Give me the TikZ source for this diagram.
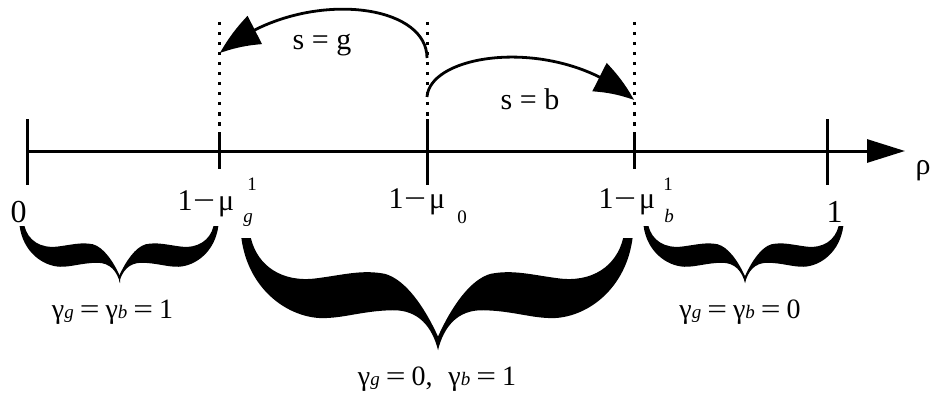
\documentclass[tikz,border=0pt]{standalone}
\usepackage{graphicx}
\usepackage{fontspec}
\setmainfont{Liberation Serif}
\usetikzlibrary{arrows.meta,bending}
\newcommand{\fsz}[1]{\fontsize{#1}{#1}\selectfont}
\newcommand{\weq}{\kern6pt\scalebox{1.25}[1]{=}\kern6pt}
\newcommand{\wmin}{\scalebox{1.3}[1]{−}}
\tikzset{
  axisline/.style={line width=3pt},
  tickline/.style={line width=3pt},
  dotline/.style={line width=3pt, dash pattern=on 3.5pt off 6.5pt},
  curvarrow/.style={line width=2.8pt, -{Triangle[length=42pt,width=31pt,bend]}},
  lbl/.style={inner sep=0pt, font=\fsz{30}},
  glbl/.style={inner sep=0pt, font=\fsz{28}},
  slbl/.style={inner sep=0pt, font=\fsz{30}},
  scr/.style={inner sep=0pt, font=\fsz{19}},
  halfbrace/.pic={
    \fill (0.015,0) .. controls (0.05,0.25) and (0.18,0.40) .. (0.36,0.36)
      .. controls (0.5,0.33) and (0.6,0.28) .. (0.72,0.32)
      .. controls (0.83,0.37) and (0.93,0.62) .. (1,0.88)
      -- (1,1)
      .. controls (0.97,0.80) and (0.9,0.64) .. (0.76,0.645)
      .. controls (0.6,0.65) and (0.5,0.72) .. (0.38,0.715)
      .. controls (0.2,0.70) and (0.0,0.45) .. (-0.035,0) -- cycle;
  }
}
\begin{document}
\begin{tikzpicture}[x=1pt,y=-1pt]
\useasboundingbox (0,0) rectangle (933,401);
% axis
\coordinate (t0) at (27,151);
\coordinate (t1) at (219,151);
\coordinate (t2) at (427,151);
\coordinate (t3) at (634,151);
\coordinate (t4) at (827,151);
\coordinate (tend) at (905,151);
\draw[axisline, -{Triangle[length=38pt,width=23pt]}] (t0) -- (tend);
% ticks
\draw[tickline] (27,119) -- (27,185);
\draw[tickline] (427,119) -- (427,185);
\draw[tickline] (827,119) -- (827,185);
\draw[tickline] (219,136) -- (219,169);
\draw[tickline] (634,136) -- (634,169);
% dotted guides
\draw[dotline] (219,22) -- (219,136);
\draw[dotline] (427,22) -- (427,119);
\draw[dotline] (634,22) -- (634,136);
% curved arrows
\coordinate (gS) at (427,58);
\coordinate (gE) at (220,53);
\coordinate (bS) at (427,97);
\coordinate (bE) at (634,100);
\draw[curvarrow] (gS) .. controls (427,0) and (295,-12) .. (gE);
\draw[curvarrow] (bS) .. controls (430,52) and (560,35) .. (bE);
\node[slbl, anchor=base] (sg) at (322,50) {s = g};
\node[slbl, anchor=base] (sb) at (530,110) {s = b};
% rho
\node[slbl, anchor=base] (rho) at (923,174) {ρ};
% axis labels
\node[lbl, anchor=base, font=\fsz{32}] (zero) at (18.5,222) {0};
\node[lbl, anchor=base, font=\fsz{32}] (one) at (834.5,222) {1};
\node[lbl, anchor=base] (mug) at (206,210) {1\kern0.5pt\wmin\kern3pt μ};
\node[scr, anchor=base] (mugsup) at (252,190) {1};
\node[scr, anchor=base, font=\fsz{19}\itshape] (mugsub) at (248,222) {g};
\node[lbl, anchor=base] (muo) at (417,208) {1\kern0.5pt\wmin\kern3pt μ};
\node[scr, anchor=base] (muosub) at (462,223) {0};
\node[lbl, anchor=base] (mub) at (627,208) {1\kern0.5pt\wmin\kern3pt μ};
\node[scr, anchor=base] (mubsup) at (668,190) {1};
\node[scr, anchor=base, font=\fsz{19}\itshape] (mubsub) at (669,222) {b};
% braces
\pic[shift={(23,226)}, xscale=97, yscale=57] {halfbrace};
\pic[shift={(215,226)}, xscale=-96, yscale=57] {halfbrace};
\pic[shift={(248,238)}, xscale=190, yscale=112] {halfbrace};
\pic[shift={(626,238)}, xscale=-188, yscale=112] {halfbrace};
\pic[shift={(647,226)}, xscale=98, yscale=57] {halfbrace};
\pic[shift={(840,226)}, xscale=-95, yscale=57] {halfbrace};
% brace labels
\node[glbl, anchor=base] (gl) at (112.5,318) {γ{\fsz{19}\itshape g}\weq γ{\fsz{19}\itshape b}\weq 1};
\node[glbl, anchor=base] (gm) at (437,385) {γ{\fsz{19}\itshape g}\weq 0,\hspace{16pt}γ{\fsz{19}\itshape b}\weq 1};
\node[glbl, anchor=base] (gr) at (740,318) {γ{\fsz{19}\itshape g}\weq γ{\fsz{19}\itshape b}\weq 0};
\end{tikzpicture}
\end{document}
